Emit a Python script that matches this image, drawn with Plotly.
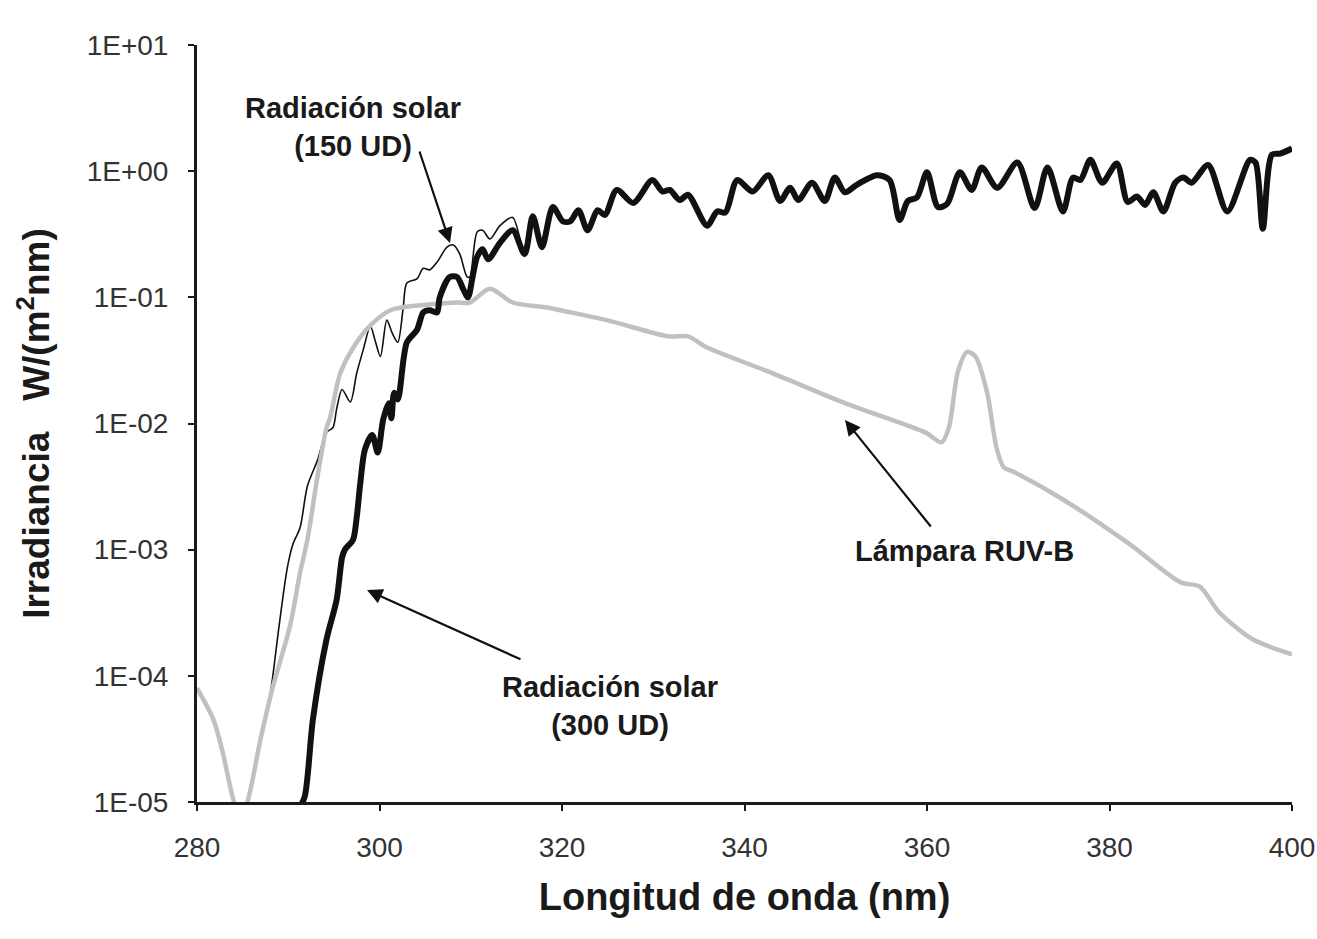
import plotly.graph_objects as go

# ---------------- data ----------------
# Lamp RUV-B (grey)
lamp_nm = [280.0, 281.8, 282.8, 283.9, 284.8, 285.8, 286.9, 288.3, 290.2, 291.3,
           292.1, 293.2, 294.2, 294.6, 295.7, 297.5, 299.0, 301.2, 304.8, 308.5,
           309.9, 312.1, 314.6, 318.4, 319.8, 324.9, 331.7, 333.8, 335.9, 343.1,
           351.0, 359.8, 361.6, 362.4, 363.4, 364.4, 365.3, 366.6, 367.6, 368.4,
           369.6, 374.9, 382.1, 387.8, 389.9, 392.0, 395.7, 400.0]
lamp_irr = [8.0e-5, 4.5e-5, 2.5e-5, 1.1e-5, 7.0e-6, 1.2e-5, 3.0e-5, 8.1e-5, 2.5e-4, 6.6e-4,
            1.2e-3, 3.8e-3, 9.3e-3, 1.12e-2, 2.5e-2, 4.4e-2, 6.0e-2, 7.9e-2, 8.7e-2, 9.1e-2,
            9.1e-2, 0.117, 9.1e-2, 8.3e-2, 7.9e-2, 6.6e-2, 4.9e-2, 4.9e-2, 4.0e-2, 2.5e-2,
            1.45e-2, 8.5e-3, 7.1e-3, 9.3e-3, 2.6e-2, 3.7e-2, 3.4e-2, 1.74e-2, 6.5e-3, 4.5e-3,
            4.1e-3, 2.5e-3, 1.12e-3, 5.5e-4, 5.1e-4, 3.2e-4, 1.95e-4, 1.48e-4]

# Solar radiation, 300 UD (thick black)
sol300_nm = [291.2, 291.8, 292.7, 294.2, 295.3, 295.9, 296.2, 297.1, 297.5, 297.9,
             298.4, 299.2, 299.8, 300.4, 301.0, 301.3, 301.6, 302.0, 303.0, 304.1,
             304.8, 305.5, 306.3, 306.6, 307.7, 308.5, 309.2, 309.7, 310.2, 310.7,
             311.3, 311.9, 313.2, 314.6, 315.9, 316.8, 317.8, 319.0, 320.1, 320.9,
             321.8, 322.8, 323.9, 324.7, 326.0, 327.8, 329.9, 331.0, 331.8, 332.9,
             333.8, 335.9, 337.0, 337.9, 339.2, 340.9, 342.6, 343.9, 345.0, 345.9,
             347.4, 348.8, 349.9, 351.0, 352.3, 354.5, 355.9, 357.0, 357.9, 358.9,
             360.0, 361.2, 362.2, 363.6, 364.9, 366.0, 367.7, 369.9, 371.8, 373.2,
             374.9, 376.0, 376.8, 377.9, 379.2, 380.8, 382.0, 383.0, 383.9, 384.8,
             385.9, 387.2, 388.1, 389.0, 390.8, 392.9, 395.4, 396.0, 396.8, 397.8,
             398.7, 400.0]
sol300_irr = [9.0e-6, 1.1e-5, 4.5e-5, 1.95e-4, 4.0e-4, 8.7e-4, 1.0e-3, 1.2e-3, 1.8e-3, 3.4e-3,
              6.2e-3, 8.1e-3, 5.9e-3, 1.07e-2, 1.45e-2, 1.1e-2, 1.75e-2, 1.55e-2, 4.4e-2, 5.5e-2,
              7.6e-2, 7.9e-2, 7.6e-2, 0.10, 0.145, 0.145, 0.115, 0.10, 0.145, 0.21,
              0.24, 0.20, 0.27, 0.34, 0.22, 0.44, 0.25, 0.52, 0.40, 0.40,
              0.49, 0.34, 0.49, 0.45, 0.71, 0.56, 0.85, 0.69, 0.71, 0.59,
              0.65, 0.37, 0.48, 0.47, 0.85, 0.69, 0.93, 0.58, 0.74, 0.59,
              0.81, 0.58, 0.89, 0.68, 0.78, 0.93, 0.85, 0.41, 0.58, 0.62,
              0.98, 0.52, 0.55, 0.98, 0.71, 1.07, 0.74, 1.17, 0.51, 1.07,
              0.48, 0.89, 0.85, 1.23, 0.81, 1.15, 0.57, 0.63, 0.54, 0.68,
              0.48, 0.81, 0.89, 0.81, 1.12, 0.48, 1.23, 1.17, 0.35, 1.35,
              1.38, 1.51]

# Solar radiation, 150 UD (thin black) - below 315.9 nm; above it coincides with 300 UD
sol150_nm = [288.0, 288.3, 288.9, 289.9, 290.5, 291.3, 292.1, 293.2, 294.2, 294.9,
             295.3, 295.9, 296.8, 297.5, 298.2, 299.0, 299.5, 300.1, 300.8, 301.4,
             302.0, 302.6, 303.0, 304.1, 304.8, 305.5, 306.3, 307.4, 308.1, 308.8,
             309.6, 309.9, 310.7, 311.3, 312.1, 313.2, 314.6]
sol150_irr = [7.0e-5, 9.8e-5, 2.2e-4, 7.2e-4, 1.1e-3, 1.5e-3, 3.2e-3, 5.1e-3, 8.5e-3, 9.3e-3,
              1.3e-2, 1.86e-2, 1.48e-2, 2.5e-2, 3.8e-2, 5.9e-2, 4.6e-2, 3.4e-2, 6.6e-2, 5.2e-2,
              4.4e-2, 8.3e-2, 0.13, 0.14, 0.17, 0.165, 0.19, 0.25, 0.26, 0.22,
              0.145, 0.145, 0.33, 0.34, 0.29, 0.37, 0.43]

x_ticks = [280, 300, 320, 340, 360, 380, 400]
y_tickvals = [1e-5, 1e-4, 1e-3, 1e-2, 1e-1, 1e0, 1e1]
y_ticktext = ["1E-05", "1E-04", "1E-03", "1E-02", "1E-01", "1E+00", "1E+01"]

# join thin series with the common part of the thick series
merge_idx = sol300_nm.index(315.9)
thin_nm = sol150_nm + sol300_nm[merge_idx:]
thin_irr = sol150_irr + sol300_irr[merge_idx:]

# ---------------- figure ----------------
W, H = 1317, 939
L, R, T, B = 197, 25, 45, 137
PW, PH = W - L - R, H - T - B
FONT = "Liberation Sans, Arial, sans-serif"


def px(xp, yp):
    """pixel position in the page -> paper coordinates"""
    return (xp - L) / PW, (T + PH - yp) / PH


fig = go.Figure()
fig.add_trace(go.Scatter(x=thin_nm, y=thin_irr, mode="lines",
                         line=dict(color="#111111", width=1.6, shape="spline", smoothing=0.8),
                         hoverinfo="skip", showlegend=False))
fig.add_trace(go.Scatter(x=lamp_nm, y=lamp_irr, mode="lines",
                         line=dict(color="#c0c0c0", width=4.5, shape="spline", smoothing=0.8),
                         hoverinfo="skip", showlegend=False))
fig.add_trace(go.Scatter(x=sol300_nm, y=sol300_irr, mode="lines",
                         line=dict(color="#111111", width=6, shape="spline", smoothing=0.8),
                         hoverinfo="skip", showlegend=False))

annotations = []
# text labels
for (cx, cy, txt) in [(353, 127, "<b>Radiación solar<br>(150 UD)</b>"),
                      (610, 706, "<b>Radiación solar<br>(300 UD)</b>"),
                      (964, 551, "<b>Lámpara RUV-B</b>")]:
    xp, yp = px(cx, cy)
    annotations.append(dict(x=xp, y=yp, xref="paper", yref="paper", text=txt,
                            showarrow=False, xanchor="center", yanchor="middle",
                            font=dict(family=FONT, size=29, color="#1a1a1a")))
# arrows (head pixel, tail pixel)
for (hx, hy, tx, ty) in [(450, 243, 419, 150), (367, 590, 522, 660), (845, 420, 932, 528)]:
    xp, yp = px(hx, hy)
    annotations.append(dict(x=xp, y=yp, xref="paper", yref="paper", text="",
                            showarrow=True, ax=tx - hx, ay=ty - hy,
                            arrowhead=2, arrowsize=1.4, arrowwidth=2.2,
                            arrowcolor="#111111", standoff=0))

fig.update_layout(
    width=W, height=H,
    margin=dict(l=L, r=R, t=T, b=B, autoexpand=False),
    paper_bgcolor="white", plot_bgcolor="white",
    font=dict(family=FONT, color="#222222"),
    annotations=annotations,
    xaxis=dict(range=[280, 400], tickvals=x_ticks, showgrid=False, zeroline=False,
               showline=True, linecolor="#1a1a1a", linewidth=3,
               ticks="outside", ticklen=6, tickwidth=2, tickcolor="#1a1a1a",
               tickfont=dict(family=FONT, size=28, color="#333333"),
               ticklabelstandoff=12,
               title=dict(text="<b>Longitud de onda (nm)</b>", standoff=22,
                          font=dict(family=FONT, size=38, color="#1a1a1a"))),
    yaxis=dict(type="log", range=[-5, 1], tickvals=y_tickvals, ticktext=y_ticktext,
               showgrid=False, zeroline=False,
               showline=True, linecolor="#1a1a1a", linewidth=3,
               ticks="outside", ticklen=6, tickwidth=2, tickcolor="#1a1a1a",
               tickfont=dict(family=FONT, size=28, color="#333333"),
               ticklabelstandoff=14,
               title=dict(text="<b>Irradiancia&nbsp;&nbsp;&nbsp;W/(m<sup>2</sup>nm)</b>", standoff=26,
                          font=dict(family=FONT, size=37, color="#1a1a1a"))),
)

fig.write_html("out.html")
